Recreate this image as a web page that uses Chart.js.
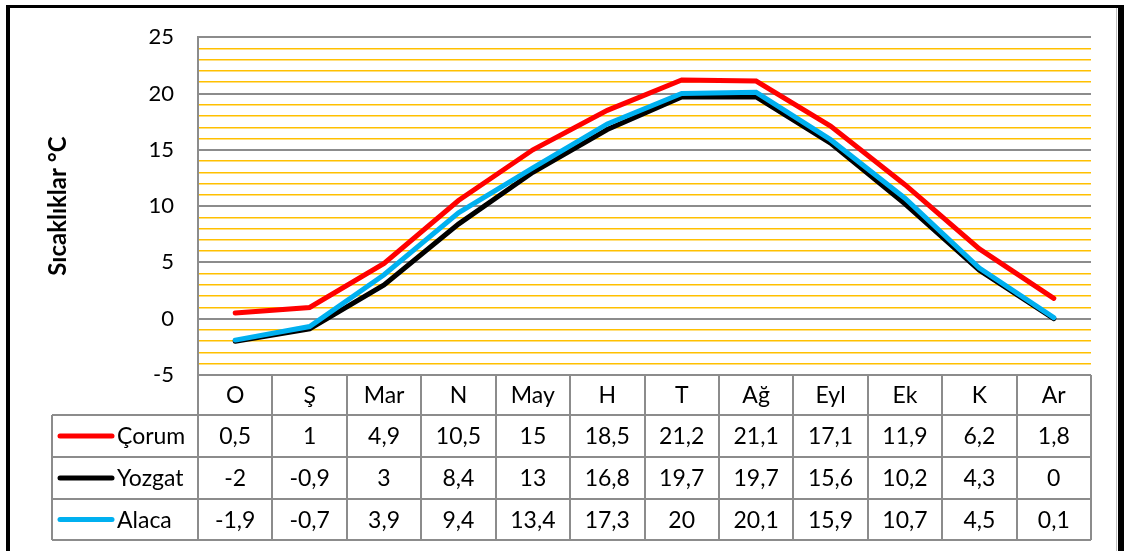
<!DOCTYPE html>
<html>
<head>
<meta charset="utf-8">
<script src="https://cdn.jsdelivr.net/npm/chart.js@4"></script>
<style>
  html, body { margin: 0; padding: 0; background: #fff; overflow: hidden; }
  canvas { display: block; }
</style>
</head>
<body>
<canvas id="chart" width="1124" height="551"></canvas>
<script>
// ---------------- DATA ----------------
const months = ['O', 'Ş', 'Mar', 'N', 'May', 'H', 'T', 'Ağ', 'Eyl', 'Ek', 'K', 'Ar'];
const corum  = [0.5, 1, 4.9, 10.5, 15, 18.5, 21.2, 21.1, 17.1, 11.9, 6.2, 1.8];
const yozgat = [-2, -0.9, 3, 8.4, 13, 16.8, 19.7, 19.7, 15.6, 10.2, 4.3, 0];
const alaca  = [-1.9, -0.7, 3.9, 9.4, 13.4, 17.3, 20, 20.1, 15.9, 10.7, 4.5, 0.1];
const seriesNames = ['Çorum', 'Yozgat', 'Alaca'];
const seriesColors = ['#FF0000', '#000000', '#00B0F0'];
const yTitle = 'Sıcaklıklar °C';

const FONT = 'Lato, "Open Sans", sans-serif';
const GRAY = '#8C8C8C';
const GOLD = '#FFC000';

// number as in the table (comma decimal)
function fmt(v) {
  return String(v).replace('.', ',');
}

// ---------------- FRAME + DATA TABLE ----------------
const tablePlugin = {
  id: 'tablePlugin',
  beforeDraw(chart) {
    const ctx = chart.ctx;
    ctx.save();
    ctx.fillStyle = '#fff';
    ctx.fillRect(0, 0, chart.width, chart.height);
    ctx.restore();
  },
  afterDraw(chart) {
    const ctx = chart.ctx;
    const x = chart.scales.x;
    const area = chart.chartArea;
    const colW = x.width / months.length;
    const rows = [area.bottom, area.bottom + 40, area.bottom + 82, area.bottom + 124, area.bottom + 165];
    const tableLeft = 52;
    const all = [corum, yozgat, alaca];

    ctx.save();
    ctx.strokeStyle = GRAY;
    ctx.lineWidth = 2;

    // horizontal lines
    ctx.beginPath();
    ctx.moveTo(area.left, rows[0]); ctx.lineTo(area.right, rows[0]);
    for (let r = 1; r < rows.length; r++) {
      ctx.moveTo(tableLeft, rows[r]); ctx.lineTo(area.right, rows[r]);
    }
    // vertical lines
    for (let i = 0; i <= months.length; i++) {
      const px = Math.round(x.left + i * colW);
      ctx.moveTo(px, rows[0]); ctx.lineTo(px, rows[4]);
    }
    ctx.moveTo(tableLeft, rows[1]); ctx.lineTo(tableLeft, rows[4]);
    ctx.stroke();

    ctx.fillStyle = '#000';
    ctx.font = '23px ' + FONT;
    ctx.textAlign = 'center';
    ctx.textBaseline = 'middle';
    months.forEach((m, i) => {
      const cx = x.getPixelForValue(i);
      ctx.fillText(m, cx, (rows[0] + rows[1]) / 2 + 1);
      all.forEach((s, k) => {
        ctx.fillText(fmt(s[i]), cx, (rows[k + 1] + rows[k + 2]) / 2 + 1);
      });
    });

    // legend keys
    ctx.textAlign = 'left';
    seriesNames.forEach((name, k) => {
      const cy = (rows[k + 1] + rows[k + 2]) / 2;
      ctx.strokeStyle = seriesColors[k];
      ctx.lineWidth = 5;
      ctx.lineCap = 'round';
      ctx.beginPath();
      ctx.moveTo(60, cy); ctx.lineTo(112, cy);
      ctx.stroke();
      ctx.fillText(name, 117, cy + 1);
    });

    // outer frame
    ctx.fillStyle = '#000';
    ctx.fillRect(6, 5, 4, chart.height - 5);
    ctx.fillRect(6, 5, chart.width - 6, 3);
    ctx.fillRect(1118, 5, 6, chart.height - 5);
    ctx.fillStyle = '#BFBFBF';
    ctx.fillRect(1116, 8, 1, chart.height - 8);
    ctx.restore();
  }
};

// ---------------- CHART ----------------
const mkSet = (k, data, order) => ({
  label: seriesNames[k],
  data: data,
  borderColor: seriesColors[k],
  backgroundColor: seriesColors[k],
  borderWidth: 5,
  pointRadius: 0,
  tension: 0,
  borderCapStyle: 'round',
  borderJoinStyle: 'miter',
  order: order
});

new Chart(document.getElementById('chart'), {
  type: 'line',
  data: {
    labels: months,
    datasets: [mkSet(0, corum, 2), mkSet(1, yozgat, 1), mkSet(2, alaca, 0)]
  },
  options: {
    responsive: false,
    animation: false,
    layout: { padding: { top: 35, bottom: 176, right: 33, left: 0 } },
    plugins: { legend: { display: false }, tooltip: { enabled: false } },
    scales: {
      x: { display: false, offset: true },
      y: {
        min: -5,
        max: 25,
        afterFit: s => { s.width = 198; },
        border: { display: true, color: GRAY, width: 2 },
        grid: {
          drawTicks: false,
          color: c => (c.tick.value % 5 === 0 ? GRAY : GOLD),
          lineWidth: c => (c.tick.value % 5 === 0 ? 2 : 1.5)
        },
        ticks: {
          stepSize: 1,
          autoSkip: false,
          padding: 24,
          color: '#000',
          font: { family: FONT, size: 22 },
          callback: v => (v % 5 === 0 ? String(v) : '')
        },
        title: {
          display: true,
          text: yTitle,
          color: '#000',
          font: { family: FONT, size: 24, weight: 'bold' },
          padding: { top: 44, bottom: 0 }
        }
      }
    }
  },
  plugins: [tablePlugin]
});
</script>
</body>
</html>
